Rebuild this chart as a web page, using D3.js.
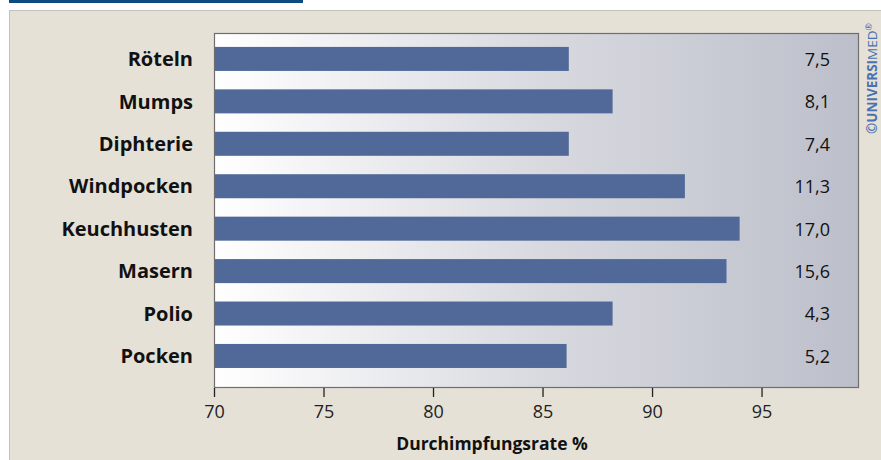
<!DOCTYPE html>
<html><head><meta charset="utf-8">
<script src="https://cdn.jsdelivr.net/npm/d3@7"></script>
<style>html,body{margin:0;padding:0;background:#fff;}svg{display:block;}</style>
</head><body>
<script>
const categories = ["Röteln","Mumps","Diphterie","Windpocken","Keuchhusten","Masern","Polio","Pocken"];
const rates = [86.2, 88.2, 86.2, 91.5, 94.0, 93.4, 88.2, 86.1];
const valueLabels = ["7,5","8,1","7,4","11,3","17,0","15,6","4,3","5,2"];
const tickValues = [70, 75, 80, 85, 90, 95];
const axisTitle = "Durchimpfungsrate %";

(function () {
const W = 881, H = 460;
const svg = d3.select("body").append("svg").attr("width", W).attr("height", H);
const font = "'Open Sans', 'Noto Sans', sans-serif";

// top blue strip
svg.append("rect").attr("x", 9).attr("y", 0).attr("width", 294).attr("height", 3).attr("fill", "#0d4a80");
// panel
svg.append("rect").attr("x", 9.5).attr("y", 10.5).attr("width", W).attr("height", H)
  .attr("fill", "#e5e1d7").attr("stroke", "#c4c0bb").attr("stroke-width", 1);

const pl = 214, pr = 859, pt = 33, pb = 388;
const x = d3.scaleLinear().domain([70, 99.45]).range([pl, pr]);
const y = d3.scaleBand().domain(categories).range([pt, pb]).paddingInner(0.434).paddingOuter(0.4).align(0.41);

const defs = svg.append("defs");
const grad = defs.append("linearGradient").attr("id", "bg").attr("x1", "0").attr("x2", "1").attr("y1", "0").attr("y2", "0");
grad.append("stop").attr("offset", "0").attr("stop-color", "#ffffff");
grad.append("stop").attr("offset", "0.5").attr("stop-color", "#d9dae0");
grad.append("stop").attr("offset", "1").attr("stop-color", "#bcbfca");

svg.append("rect").attr("x", pl).attr("y", pt).attr("width", pr - pl).attr("height", pb - pt)
  .attr("fill", "url(#bg)");

svg.append("g").selectAll("rect").data(categories).join("rect")
  .attr("x", x(70)).attr("y", d => y(d))
  .attr("width", (d, i) => x(rates[i]) - x(70)).attr("height", y.bandwidth())
  .attr("fill", "#506998");

svg.append("rect").attr("x", pl + 0.5).attr("y", pt + 0.5).attr("width", pr - pl - 1).attr("height", pb - pt - 1)
  .attr("fill", "none").attr("stroke", "#6e6e6e").attr("stroke-width", 1.2);

// category labels
svg.append("g").selectAll("text").data(categories).join("text")
  .attr("x", 193).attr("y", d => y(d) + y.bandwidth() / 2).attr("dy", "0.36em")
  .attr("text-anchor", "end").attr("font-family", font).attr("font-weight", "bold")
  .attr("font-size", 20).attr("fill", "#111").text(d => d);

// value labels
svg.append("g").selectAll("text").data(categories).join("text")
  .attr("x", 830).attr("y", d => y(d) + y.bandwidth() / 2).attr("dy", "0.38em")
  .attr("text-anchor", "end").attr("font-family", font)
  .attr("font-size", 18).attr("fill", "#111").text((d, i) => valueLabels[i]);

// x axis
const ax = svg.append("g").attr("transform", `translate(0,${pb})`)
  .call(d3.axisBottom(x).tickValues(tickValues).tickSize(9).tickSizeOuter(0).tickPadding(8));
ax.select(".domain").remove();
ax.selectAll(".tick line").attr("stroke", "#222").attr("stroke-width", 1.3);
ax.selectAll(".tick text").attr("font-family", font).attr("font-size", 18).attr("fill", "#222");

svg.append("text").attr("x", 492).attr("y", 450).attr("text-anchor", "middle")
  .attr("font-family", font).attr("font-weight", "bold").attr("font-size", 17.5).attr("fill", "#111")
  .text(axisTitle);

const wm = svg.append("text").attr("transform", "translate(877,134) rotate(-90)").attr("text-anchor", "start")
  .attr("font-family", font).attr("font-size", 13.5).attr("fill", "#4a72b0");
wm.append("tspan").attr("font-weight", "bold").text("©UNIVERSI");
wm.append("tspan").attr("font-weight", "normal").text("MED");
wm.append("tspan").attr("font-size", 9).attr("dy", -5).text("®");
})();
</script>
</body></html>
